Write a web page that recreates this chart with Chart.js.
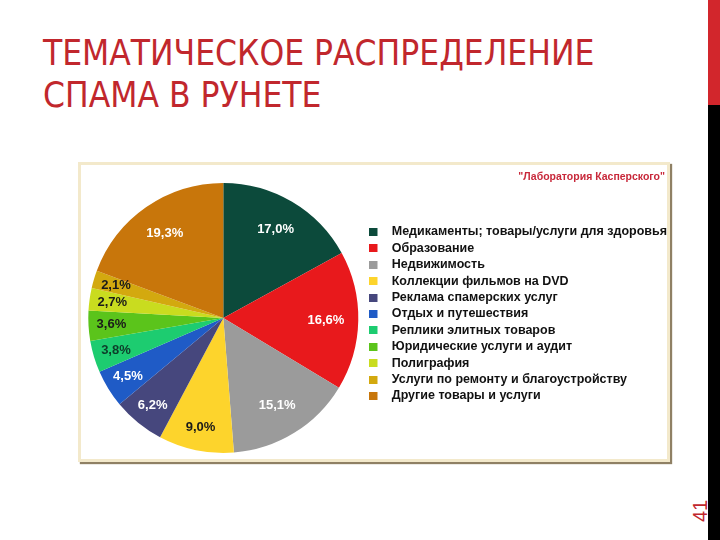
<!doctype html>
<html>
<head>
<meta charset="utf-8">
<title>Тематическое распределение спама в Рунете</title>
<script src="https://cdn.jsdelivr.net/npm/chart.js"></script>
<style>
  body { margin: 0; background: #fff; }
  #slide { position: relative; width: 720px; height: 540px; overflow: hidden; background: #fff; }
  #title {
    position: absolute; left: 43px; top: 32px; margin: 0;
    font-family: "DejaVu Sans Condensed", "Noto Sans", sans-serif;
    font-weight: normal; font-size: 35px; line-height: 42px; color: #c1272d;
    white-space: nowrap;
  }
  #barRed { position: absolute; left: 708px; top: 0; width: 12px; height: 105px; background: #d2262c; }
  #barBlack { position: absolute; left: 708px; top: 105px; width: 12px; height: 435px; background: #000; }
  #pageNo {
    position: absolute; left: 689px; top: 522px; width: 40px; height: 20px;
    transform: rotate(-90deg); transform-origin: 0 0;
    font-family: "Liberation Sans", Arial, sans-serif; font-size: 20px; color: #c1272d;
  }
  #frame {
    position: absolute; left: 78px; top: 162px; width: 586px; height: 294px;
    background: #fff; border: 3px solid #f3e9cb;
    box-shadow: 2px 2px 1px #8f8064;
  }
  #source {
    position: absolute; right: 2px; top: 5px;
    font-family: "Liberation Sans", Arial, sans-serif; font-weight: bold; font-size: 10.5px; color: #c8283a;
  }
  #chartBox { position: absolute; left: 0; top: 0; width: 596px; height: 294px; }
</style>
</head>
<body>
<div id="slide">
  <h1 id="title">ТЕМАТИЧЕСКОЕ РАСПРЕДЕЛЕНИЕ<br>СПАМА В РУНЕТЕ</h1>
  <div id="barRed"></div>
  <div id="barBlack"></div>
  <div id="pageNo">41</div>
  <div id="frame">
    <div id="chartBox"><canvas id="chart"></canvas></div>
    <div id="source">"Лаборатория Касперского"</div>
  </div>
</div>

<script>
  // categories and shares (%), clockwise from 12 o'clock
  const categories = [
    'Медикаменты; товары/услуги для здоровья',
    'Образование',
    'Недвижимость',
    'Коллекции фильмов на DVD',
    'Реклама спамерских услуг',
    'Отдых и путешествия',
    'Реплики элитных товаров',
    'Юридические услуги и аудит',
    'Полиграфия',
    'Услуги по ремонту и благоустройству',
    'Другие товары и услуги'
  ]
  const shares = [17.0, 16.6, 15.1, 9.0, 6.2, 4.5, 3.8, 3.6, 2.7, 2.1, 19.3]

  const sliceColors = ['#0c4a3b', '#e8191c', '#9b9b9b', '#fdd42c', '#46477d', '#1f5bc6',
                       '#1dcc70', '#5bc41b', '#c9dc1f', '#d3a90f', '#c8760b']
  const labelColors = ['#fff', '#fff', '#fff', '#1a1a1a', '#fff', '#fff',
                       '#0d3d2a', '#1a1a1a', '#1a1a1a', '#1a1a1a', '#fff']

  const fmt = v => v.toFixed(1).replace('.', ',') + '%'

  // legend markers: small square at the left of a wider transparent image,
  // so the text sits further from the square
  const markers = sliceColors.map(c => {
    const cv = document.createElement('canvas')
    cv.width = 16
    cv.height = 8
    const g = cv.getContext('2d')
    g.fillStyle = c
    g.fillRect(0, 0, 8, 8)
    return cv
  })

  // percentage labels inside slices
  const sliceLabels = {
    id: 'sliceLabels',
    afterDatasetsDraw(chart) {
      const ctx = chart.ctx
      const arcs = chart.getDatasetMeta(0).data
      ctx.save()
      ctx.font = 'bold 13px "Liberation Sans", Arial, sans-serif'
      ctx.textAlign = 'center'
      ctx.textBaseline = 'middle'
      arcs.forEach((arc, i) => {
        const p = arc.getProps(['x', 'y', 'startAngle', 'endAngle', 'outerRadius'], true)
        const mid = (p.startAngle + p.endAngle) / 2
        const r = p.outerRadius * (shares[i] > 10 ? 0.76 : 0.83)
        ctx.fillStyle = labelColors[i]
        ctx.fillText(fmt(shares[i]), p.x + Math.cos(mid) * r, p.y + Math.sin(mid) * r)
      })
      ctx.restore()
    }
  }

  // nudge the legend a little above the pie centre
  const legendNudge = {
    id: 'legendNudge',
    afterLayout(chart) {
      chart.legend.top -= 4
      chart.legend.bottom -= 4
    }
  }

  new Chart(document.getElementById('chart'), {
    type: 'pie',
    data: {
      labels: categories,
      datasets: [{
        data: shares,
        backgroundColor: sliceColors,
        borderWidth: 0
      }]
    },
    options: {
      responsive: true,
      maintainAspectRatio: false,
      animation: false,
      layout: { padding: { left: 0, top: 18, bottom: 6, right: 0 } },
      plugins: {
        tooltip: { enabled: false },
        legend: {
          position: 'right',
          maxWidth: 330,
          labels: {
            usePointStyle: true,
            pointStyleWidth: 16,
            boxHeight: 8,
            padding: 3.9,
            color: '#111',
            font: { family: '"Liberation Sans", Arial, sans-serif', size: 12.5, weight: 'bold' },
            generateLabels(chart) {
              const items = Chart.overrides.pie.plugins.legend.labels.generateLabels(chart)
              return items.map((it, i) => Object.assign(it, { pointStyle: markers[i] }))
            }
          }
        }
      }
    },
    plugins: [sliceLabels, legendNudge]
  })
</script>
</body>
</html>
